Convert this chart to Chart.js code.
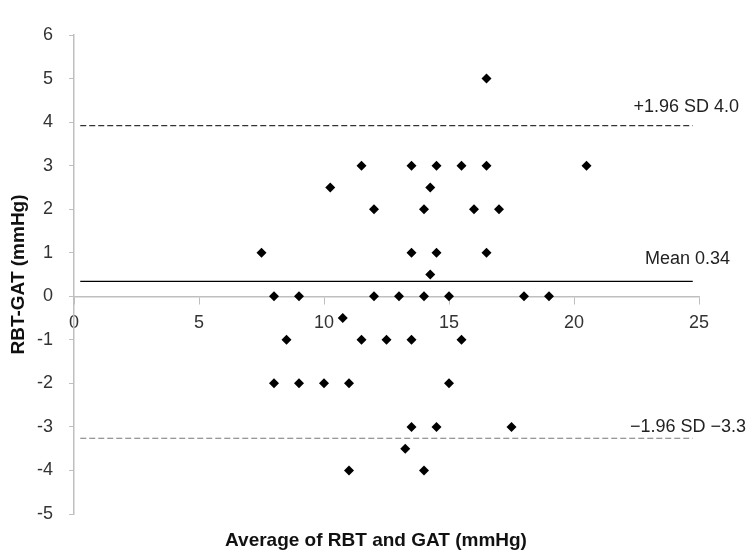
<!DOCTYPE html>
<html>
<head>
<meta charset="utf-8">
<script src="https://cdn.jsdelivr.net/npm/chart.js@4/dist/chart.umd.min.js"></script>
<style>
  body { margin: 0; background: #fff; }
  canvas { display: block; }
</style>
</head>
<body>
<canvas id="grafico" width="747" height="553"></canvas>
<script>
// media (x) e diferenca (y) RBT - GAT
const mediaX = [7.5, 13.5, 14.5, 16.5, 10.25, 14.25, 11.5, 13.5, 14.5, 15.5, 16.5, 20.5,
  12, 14, 16, 17, 16.5, 14.25, 8, 9, 12, 13, 14, 15, 18, 19,
  10.75, 8.5, 11.5, 12.5, 13.5, 15.5, 8, 9, 10, 11, 15, 13.5, 14.5, 17.5, 13.25, 11, 14];
const difY = [1, 1, 1, 1, 2.5, 2.5, 3, 3, 3, 3, 3, 3,
  2, 2, 2, 2, 5, 0.5, 0, 0, 0, 0, 0, 0, 0, 0,
  -0.5, -1, -1, -1, -1, -1, -2, -2, -2, -2, -2, -3, -3, -3, -3.5, -4, -4];

const media = 0.34;
const limSup = 3.92;
const limInf = -3.26;
const linhaX = [0.25, 24.75];
const rotulos = ['+1.96 SD 4.0', 'Mean 0.34', '\u22121.96 SD \u22123.3'];

const pontos = mediaX.map((x, i) => ({ x: x, y: difY[i] }));
const linha = v => linhaX.map(x => ({ x: x, y: v }));

const fonte = 'Liberation Sans, Arial, sans-serif';

// textos das linhas e titulo do eixo x
const textos = {
  id: 'textos',
  afterDraw(chart) {
    const c = chart.ctx;
    const y = chart.scales.y;
    c.save();
    c.fillStyle = '#222';
    c.font = '18px ' + fonte;
    c.textAlign = 'right';
    c.textBaseline = 'middle';
    c.fillText(rotulos[0], 739, y.getPixelForValue(limSup) - 19);
    c.fillText(rotulos[1], 730, y.getPixelForValue(media) - 22);
    c.fillText(rotulos[2], 746, y.getPixelForValue(limInf) - 11);
    c.font = 'bold 19px ' + fonte;
    c.textAlign = 'center';
    c.fillStyle = '#111';
    c.fillText('Average of RBT and GAT (mmHg)', 376, 541);
    c.restore();
  }
};

new Chart(document.getElementById('grafico'), {
  type: 'scatter',
  data: {
    datasets: [
      {
        data: pontos,
        pointStyle: 'rectRot',
        pointRadius: 5,
        backgroundColor: '#000',
        borderColor: '#000',
        borderWidth: 0
      },
      {
        type: 'line', data: linha(media), borderColor: '#000', borderWidth: 1.2,
        pointRadius: 0, fill: false
      },
      {
        type: 'line', data: linha(limSup), borderColor: '#333', borderWidth: 1.2,
        borderDash: [6, 3], pointRadius: 0, fill: false
      },
      {
        type: 'line', data: linha(limInf), borderColor: '#777', borderWidth: 1.2,
        borderDash: [6, 3], pointRadius: 0, fill: false
      }
    ]
  },
  options: {
    responsive: false,
    animation: false,
    layout: { padding: { top: 35, right: 48, bottom: 39, left: 0 } },
    plugins: { legend: { display: false }, tooltip: { enabled: false } },
    scales: {
      x: {
        type: 'linear',
        position: { y: 0 },
        min: 0, max: 25,
        ticks: { stepSize: 5, color: '#333', font: { size: 18, family: fonte }, padding: 9 },
        grid: { drawOnChartArea: false, drawTicks: true, tickLength: 7, color: '#bfbfbf' },
        border: { color: '#bfbfbf', width: 1.5 }
      },
      y: {
        min: -5, max: 6,
        afterFit(s) { s.width = 74; },
        ticks: { stepSize: 1, color: '#333', font: { size: 18, family: fonte }, padding: 16 },
        grid: { drawOnChartArea: false, drawTicks: true, tickLength: 5, color: '#bfbfbf' },
        border: { color: '#bfbfbf', width: 1.5 },
        title: {
          display: true, text: 'RBT-GAT (mmHg)', color: '#111',
          font: { size: 19, weight: 'bold', family: fonte },
          padding: { top: 7, bottom: 0 }
        }
      }
    }
  },
  plugins: [textos]
});
</script>
</body>
</html>
